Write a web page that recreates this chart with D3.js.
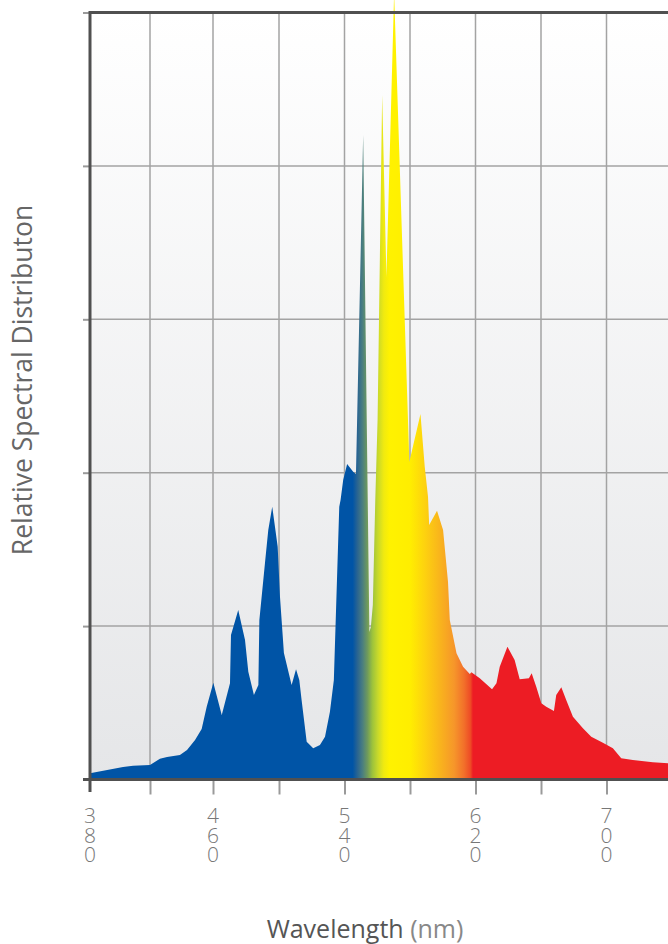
<!DOCTYPE html>
<html>
<head>
<meta charset="utf-8">
<script src="https://cdn.jsdelivr.net/npm/d3@7"></script>
<style>
  body { margin: 0; background: #fff; }
  svg { display: block; font-family: "Open Sans", sans-serif; }
  .digits { writing-mode: vertical-lr; text-orientation: upright; }
</style>
</head>
<body>
<div class="chart"></div>
<script>
// spectrum (nm, relative value; one grid step = 20)
const wavelength = [380, 402, 408.7, 420, 426.3, 430.8, 439, 443.5, 448.6, 452.8, 456, 460.2, 465.3, 470.3, 470.9, 475.3, 479.4, 481.4, 484.8, 487.5, 488.1, 491.5, 493.5, 495.9, 499.2, 500.6, 503, 507.7, 510.4, 512.4, 513.8, 516.9, 520.9, 525, 528.1, 531.1, 533.5, 536.8, 537.6, 539.2, 541.6, 545.3, 547, 551.4, 555.2, 556.1, 557.3, 558.8, 560.2, 563, 565.6, 570.3, 579.6, 586.4, 589, 591, 591.7, 596.5, 600.2, 603.2, 604.3, 608.4, 612.4, 616.5, 617.5, 622.6, 630.1, 632.8, 634.8, 639.5, 643.9, 647, 652.6, 654.3, 657.1, 660.2, 663.2, 667.9, 669.3, 672.4, 675.4, 679.5, 685.6, 690.7, 697.8, 703.9, 709, 716.1, 728.3, 740];
const intensity = [0.8, 1.63, 1.8, 1.89, 2.71, 2.93, 3.2, 3.85, 5.15, 6.58, 9.49, 12.62, 8.41, 12.54, 18.84, 22.1, 18.19, 14.06, 11.02, 12.32, 20.8, 28.23, 32.53, 35.57, 30.35, 23.84, 16.5, 12.33, 14.37, 12.97, 10.37, 4.93, 4.07, 4.5, 5.58, 8.84, 12.97, 35.57, 36.45, 39.05, 41.14, 40.14, 39.84, 84.04, 19.23, 19.89, 22.76, 36.45, 46.88, 89.26, 65.53, 102.5, 41.4, 47.66, 40.79, 36.88, 33.19, 35.05, 32.53, 25.79, 20.8, 16.46, 14.71, 13.76, 13.98, 13.2, 11.76, 12.54, 14.71, 17.32, 15.58, 13.07, 13.2, 13.85, 12.1, 9.94, 9.49, 8.93, 11.02, 12.02, 10.37, 8.19, 6.68, 5.58, 4.8, 4.07, 2.76, 2.54, 2.24, 2.1];

const xTicks = [380, 420, 460, 500, 540, 580, 620, 660, 700, 740];
const xLabels = [380, 460, 540, 620, 700];
const yTicks = [0, 20, 40, 60, 80, 100];

// colour of the light at each wavelength
const spectrumNm = [380, 545, 548, 551, 554, 557, 560.5, 564, 567.5, 580, 589, 598, 607, 613, 617, 618.5, 740];
const spectrumColor = ['#0054a6', '#0054a6', '#2b6590', '#4a7e80', '#6f9a5c', '#9cc23c', '#c9d92a', '#f0ea10', '#fff200', '#ffee00', '#fdd20f', '#f9b51c', '#f6962a', '#f2702a', '#ee4a25', '#ed1c24', '#ed1c24'];

const W = 668, H = 944;
const plotTop = 12.5, plotBottom = 779.5;

// the axis is a little tighter below 460 nm
const x = d3.scaleLinear()
  .domain([380, 420, 460, 500, 740])
  .range([90, 150, 213, 279, 672]);
const y = d3.scaleLinear().domain([0, 100]).range([plotBottom, plotTop]);

const svg = d3.select('.chart').append('svg')
  .attr('width', W)
  .attr('height', H);

const defs = svg.append('defs');
const bg = defs.append('linearGradient').attr('id', 'bg')
  .attr('x1', 0).attr('y1', 0).attr('x2', 0).attr('y2', 1);
bg.append('stop').attr('offset', 0).attr('stop-color', '#ffffff');
bg.append('stop').attr('offset', 1).attr('stop-color', '#e5e6e8');

const spec = defs.append('linearGradient').attr('id', 'spec')
  .attr('gradientUnits', 'userSpaceOnUse')
  .attr('x1', x(380)).attr('x2', x(740)).attr('y1', 0).attr('y2', 0);
spectrumNm.forEach((nm, i) => {
  spec.append('stop')
    .attr('offset', (x(nm) - x(380)) / (x(740) - x(380)))
    .attr('stop-color', spectrumColor[i]);
});

svg.append('rect')
  .attr('x', x(380)).attr('y', plotTop)
  .attr('width', x(740) - x(380)).attr('height', plotBottom - plotTop)
  .attr('fill', 'url(#bg)');

// grid
svg.append('g').selectAll('line')
  .data(xTicks.slice(1))
  .join('line')
  .attr('x1', d => x(d)).attr('x2', d => x(d))
  .attr('y1', plotTop).attr('y2', plotBottom)
  .attr('stroke', '#a3a3a3').attr('stroke-width', 1.5);
svg.append('g').selectAll('line')
  .data(yTicks.slice(1, -1))
  .join('line')
  .attr('x1', x(380)).attr('x2', x(740))
  .attr('y1', d => y(d)).attr('y2', d => y(d))
  .attr('stroke', '#a3a3a3').attr('stroke-width', 1.5);

const points = wavelength.map((w, i) => [w, intensity[i]]);
const area = d3.area()
  .x(d => x(d[0]))
  .y0(y(0))
  .y1(d => y(d[1]));

svg.append('path')
  .datum(points)
  .attr('d', area)
  .attr('fill', 'url(#spec)');

// ticks
svg.append('g')
  .attr('transform', `translate(0,${plotBottom})`)
  .call(d3.axisBottom(x).tickValues(xTicks.slice(1)).tickSize(15).tickFormat(''))
  .call(g => g.select('.domain').remove())
  .call(g => g.selectAll('line').attr('stroke', '#9a9a9a').attr('stroke-width', 2));
svg.append('g')
  .attr('transform', `translate(${x(380)},0)`)
  .call(d3.axisLeft(y).tickValues(yTicks).tickSize(7).tickFormat(''))
  .call(g => g.select('.domain').remove())
  .call(g => g.selectAll('line').attr('stroke', '#9a9a9a').attr('stroke-width', 2));

// frame
const frame = svg.append('g').attr('stroke', '#505050').attr('stroke-width', 3);
frame.append('line').attr('x1', x(380)).attr('x2', x(740)).attr('y1', plotTop).attr('y2', plotTop);
frame.append('line').attr('x1', x(380)).attr('x2', x(380)).attr('y1', plotTop - 1.5).attr('y2', 792);
frame.append('line').attr('x1', 83).attr('x2', x(740)).attr('y1', plotBottom).attr('y2', plotBottom);

// stacked digit labels, written top to bottom
svg.append('g')
  .attr('fill', '#777')
  .attr('font-size', 21)
  .attr('font-weight', 300)
  .selectAll('text')
  .data(xLabels)
  .join('text')
  .attr('class', 'digits')
  .attr('x', d => x(d))
  .attr('y', 801)
  .attr('letter-spacing', -8.5)
  .text(d => String(d));

svg.append('text')
  .attr('transform', 'translate(32,380) rotate(-90)')
  .attr('text-anchor', 'middle')
  .attr('font-size', 26.5)
  .attr('fill', '#666')
  .text('Relative Spectral Distributon');

const xt = svg.append('text')
  .attr('x', 365).attr('y', 938)
  .attr('text-anchor', 'middle')
  .attr('font-size', 25);
xt.append('tspan').attr('fill', '#555').text('Wavelength ');
xt.append('tspan').attr('fill', '#888').text('(nm)');
</script>
</body>
</html>
